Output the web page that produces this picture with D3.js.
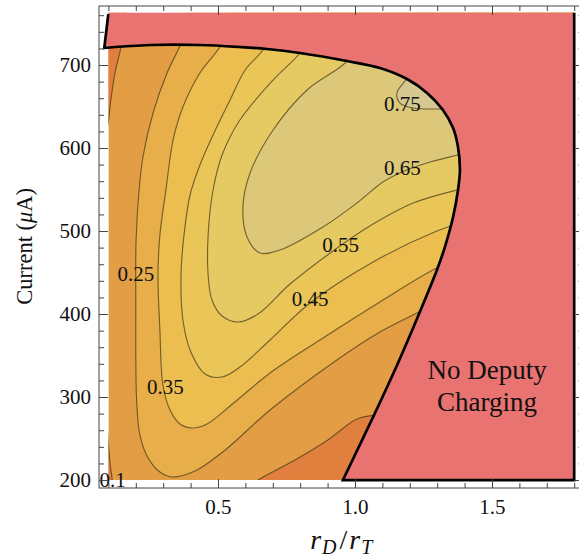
<!DOCTYPE html>
<html>
<head>
<meta charset="utf-8">
<script src="https://cdn.jsdelivr.net/npm/d3@7"></script>
<style>
  html, body { margin: 0; padding: 0; background: #fff; }
  text { font-family: "Liberation Serif", "Times New Roman", serif; }
</style>
</head>
<body>
<svg id="chart" width="579" height="557"></svg>
<script>
// Contour levels of the charging map (ascending)
const levels = [0.1, 0.25, 0.35, 0.45, 0.55, 0.65, 0.75];

// Contour lines as [rD/rT, current (µA)] vertices.
// Open ends run on under the "No Deputy Charging" region.
const contour010TopLeft = [[0.164,766.3],[0.146,721.7],[0.124,690.4],[0.109,657.8],[0.0996,631.3],[0.091,615.7]];
const contour010Corner  = [[0.0967,260.2],[0.0996,246.1],[0.106,220.5],[0.114,200],[0.115,192.8]];
const contour010Lower   = [[0.617,192.8],[0.646,200],[0.781,224.1],[0.901,248.2],[1.007,273.5],[1.073,278.3],[1.164,280.7],[1.347,284.3]];
const contour025 = [[0.383,742.2],[0.361,722.9],[0.314,690.4],[0.263,642.2],[0.226,589.2],[0.212,549.4],[0.201,489.2],[0.200,416.9],[0.203,296.4],[0.215,254.2],[0.245,226.5],[0.288,209.6],[0.332,203.6],[0.416,210.8],[0.526,236.1],[0.690,284.3],[0.934,344.6],[1.091,378.3],[1.219,400.0],[1.328,416.9]];
const contour035 = [[0.536,742.2],[0.507,721.7],[0.434,690.4],[0.372,649.4],[0.336,609.6],[0.310,549.4],[0.288,495.2],[0.281,447.0],[0.288,380.7],[0.299,314.5],[0.325,284.3],[0.361,267.5],[0.405,262.7],[0.460,267.5],[0.544,289.2],[0.690,328.9],[0.872,368.7],[1.091,414.5],[1.299,455.4],[1.401,467.5]];
const contour045 = [[0.697,739.8],[0.664,718.1],[0.599,694.0],[0.544,657.8],[0.482,615.7],[0.434,579.5],[0.398,543.4],[0.376,495.2],[0.365,447.0],[0.372,392.8],[0.401,354.2],[0.453,327.7],[0.515,324.1],[0.580,336.1],[0.690,368.7],[0.836,413.3],[1.066,462.7],[1.299,500.0],[1.420,513.3]];
const contour055 = [[0.828,732.5],[0.799,714.5],[0.701,681.9],[0.580,633.7],[0.515,591.6],[0.482,549.4],[0.464,495.2],[0.464,447.0],[0.478,416.9],[0.515,397.6],[0.573,390.4],[0.646,400.0],[0.763,436.1],[0.945,481.9],[1.066,508.4],[1.212,533.7],[1.372,549.4],[1.456,555.4]];
const contour065 = [[1.0,724.1],[0.971,704.8],[0.825,669.9],[0.701,621.7],[0.617,569.9],[0.591,528.9],[0.606,492.8],[0.653,473.5],[0.726,477.1],[0.883,504.8],[1.007,533.7],[1.102,559.0],[1.172,571.1],[1.274,583.1],[1.376,591.6],[1.456,597.6]];
const contour075 = [[1.219,706.0],[1.190,684.3],[1.153,666.3],[1.164,654.2],[1.212,648.2],[1.321,647.0],[1.420,647.0]];

// Edge of the region where the deputy does not charge
const noChargingBoundary = [[0.0996,761.4],[0.085,720.5],[0.252,724.1],[0.434,724.1],[0.580,721.7],[0.679,719.3],[0.799,714.5],[0.971,704.8],[1.091,696.4],[1.190,683.1],[1.263,666.3],[1.321,645.8],[1.358,624.1],[1.376,601.2],[1.383,573.5],[1.376,549.4],[1.358,516.9],[1.328,480.7],[1.299,453.0],[1.232,398.8],[1.157,341.0],[1.073,280.7],[0.956,200]];

// Where each level's label sits
const labelLevels = [0.1, 0.25, 0.35, 0.45, 0.55, 0.65, 0.75];
const labelX      = [0.115, 0.200, 0.308, 0.836, 0.948, 1.173, 1.173];
const labelY      = [200.4, 447.9, 312.7, 418.1, 483.1, 575.5, 653.8];

// Axis ticks
const xMajorTicks = [0.5, 1.0, 1.5];
const xMinorTicks = [0.1,0.2,0.3,0.4,0.6,0.7,0.8,0.9,1.1,1.2,1.3,1.4,1.6,1.7,1.8];
const yMajorTicks = [200, 300, 400, 500, 600, 700];
const yMinorTicks = [220,240,260,280,320,340,360,380,420,440,460,480,520,540,560,580,620,640,660,680,720,740,760];

// Layout / style
const xFrame = [0.0657, 1.834], yFrame = [190.4, 771.1];
const xPlot = [0.1, 1.8], yPlot = [200, 763];
const bandColors = ["#E1803E", "#E39D45", "#E8AE4A", "#ECBE50", "#EAC558", "#E5CA64", "#DCC878", "#D6C891"];
const regionRed = "#E87371";
const lineColor = "rgba(65,55,25,0.7)";

const svg = d3.select("#chart");
const x = d3.scaleLinear().domain(xFrame).range([99, 583.5]);
const y = d3.scaleLinear().domain(yFrame).range([488, 6]);

const smooth = d3.line().x(d => x(d[0])).y(d => y(d[1])).curve(d3.curveCatmullRom.alpha(0.5));
const P = (a, b) => `${x(a)},${y(b)}`;

svg.append("defs").append("clipPath").attr("id", "plotClip")
  .append("rect")
  .attr("x", x(xPlot[0])).attr("y", y(yPlot[1]))
  .attr("width", x(xPlot[1]) - x(xPlot[0]))
  .attr("height", y(yPlot[0]) - y(yPlot[1]));

const field = svg.append("g").attr("clip-path", "url(#plotClip)");

// band between the lowest two levels as the base
field.append("rect")
  .attr("x", x(xPlot[0])).attr("y", y(yPlot[1]))
  .attr("width", x(xPlot[1]) - x(xPlot[0]))
  .attr("height", y(yPlot[0]) - y(yPlot[1]))
  .attr("fill", bandColors[1]);

// pockets below the lowest level
const lowPockets = [
  smooth(contour010TopLeft) + `L${P(0, contour010TopLeft.at(-1)[1])}L${P(0, 800)}Z`,
  smooth(contour010Corner) + `L${P(0, contour010Corner.at(-1)[1])}L${P(0, contour010Corner[0][1])}Z`,
  smooth(contour010Lower) + `L${P(2.2, contour010Lower.at(-1)[1])}L${P(2.2, contour010Lower[0][1])}Z`
];
field.selectAll("path.low").data(lowPockets).join("path")
  .attr("class", "low").attr("d", d => d).attr("fill", bandColors[0]);

// superlevel regions, closed round the upper right
const upperLines = [contour025, contour035, contour045, contour055, contour065, contour075];
upperLines.forEach((pts, i) => {
  const first = pts[0], last = pts.at(-1);
  field.append("path")
    .attr("d", smooth(pts) + `L${P(2.2, last[1])}L${P(2.2, 820)}L${P(first[0], 820)}Z`)
    .attr("fill", bandColors[i + 2]);
});

// contour strokes
[contour010TopLeft, contour010Corner, contour010Lower, ...upperLines].forEach(pts => {
  field.append("path").attr("d", smooth(pts))
    .attr("fill", "none").attr("stroke", lineColor).attr("stroke-width", 1.15);
});

// excluded region
const b0 = noChargingBoundary[0];
const boundaryCurve = `M${P(b0[0], b0[1])}` + smooth(noChargingBoundary.slice(1)).replace(/^M/, "L");
svg.append("path")
  .attr("d", boundaryCurve + `L${P(xPlot[1], yPlot[0])}L${P(xPlot[1], yPlot[1])}L${P(b0[0], yPlot[1])}Z`)
  .attr("fill", regionRed);
svg.append("path")
  .attr("d", boundaryCurve + `L${P(xPlot[1], yPlot[0])}L${P(xPlot[1], yPlot[1])}`)
  .attr("fill", "none").attr("stroke", "#000").attr("stroke-width", 2.7)
  .attr("stroke-linejoin", "miter");

// contour labels
svg.selectAll("text.clabel").data(labelLevels).join("text")
  .attr("class", "clabel")
  .attr("x", (d, i) => x(labelX[i])).attr("y", (d, i) => y(labelY[i]))
  .attr("dy", "0.34em").attr("text-anchor", "middle")
  .attr("font-size", 21).attr("fill", "#111")
  .text(d => String(d));

// region caption
const cap = svg.append("text").attr("text-anchor", "middle").attr("font-size", 27).attr("fill", "#111");
cap.append("tspan").attr("x", x(1.482)).attr("y", y(321.7)).text("No Deputy");
cap.append("tspan").attr("x", x(1.482)).attr("y", y(283.1)).text("Charging");

// frame
svg.append("rect")
  .attr("x", x(xFrame[0])).attr("y", y(yFrame[1]))
  .attr("width", x(xFrame[1]) - x(xFrame[0]))
  .attr("height", y(yFrame[0]) - y(yFrame[1]))
  .attr("fill", "none").attr("stroke", "#444").attr("stroke-width", 1);

function ticks(axisFn, pos, values, size, labels, fmt) {
  const ax = axisFn(axisFn === d3.axisLeft || axisFn === d3.axisRight ? y : x)
    .tickValues(values).tickSizeInner(-size).tickSizeOuter(0)
    .tickPadding(axisFn === d3.axisBottom ? 11 : 8)
    .tickFormat(labels ? fmt : () => "");
  const g = svg.append("g").attr("transform", pos).call(ax);
  g.select(".domain").remove();
  g.selectAll(".tick line").attr("stroke", "#444");
  g.selectAll("text").attr("font-family", "Liberation Serif, Times New Roman, serif")
    .attr("font-size", 21).attr("fill", "#111");
}
const fx = d3.format(".1f"), fy = d3.format("d");
ticks(d3.axisBottom, `translate(0,${y(yFrame[0])})`, xMajorTicks, 9, true, fx);
ticks(d3.axisBottom, `translate(0,${y(yFrame[0])})`, xMinorTicks, 5, false);
ticks(d3.axisTop, `translate(0,${y(yFrame[1])})`, xMajorTicks, 9, false);
ticks(d3.axisTop, `translate(0,${y(yFrame[1])})`, xMinorTicks, 5, false);
ticks(d3.axisLeft, `translate(${x(xFrame[0])},0)`, yMajorTicks, 9, true, fy);
ticks(d3.axisLeft, `translate(${x(xFrame[0])},0)`, yMinorTicks, 5, false);
ticks(d3.axisRight, `translate(${x(xFrame[1])},0)`, yMajorTicks, 9, false);
ticks(d3.axisRight, `translate(${x(xFrame[1])},0)`, yMinorTicks, 5, false);

// axis titles
const yt = svg.append("text")
  .attr("transform", `translate(32,${(y(yPlot[0]) + y(yPlot[1])) / 2}) rotate(-90)`)
  .attr("text-anchor", "middle").attr("font-size", 22.5).attr("fill", "#111");
yt.append("tspan").text("Current (");
yt.append("tspan").attr("font-style", "italic").text("μ");
yt.append("tspan").text("A)");

const xt = svg.append("text")
  .attr("x", (x(xPlot[0]) + x(xPlot[1])) / 2).attr("y", 549)
  .attr("text-anchor", "middle").attr("font-size", 28).attr("fill", "#111")
  .attr("font-style", "italic");
xt.append("tspan").text("r");
xt.append("tspan").attr("font-size", 20).attr("dy", 5).attr("dx", 1).text("D");
xt.append("tspan").attr("dy", -5).attr("font-style", "normal").attr("dx", 3).text("/");
xt.append("tspan").attr("dx", 2).text("r");
xt.append("tspan").attr("font-size", 20).attr("dy", 5).attr("dx", 1).text("T");
</script>
</body>
</html>
